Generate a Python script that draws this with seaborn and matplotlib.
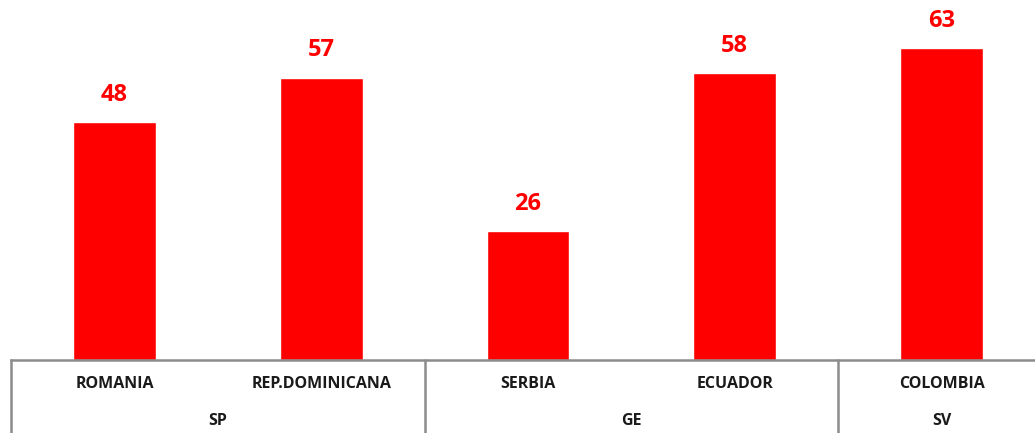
import matplotlib
matplotlib.use("Agg")
import matplotlib.pyplot as plt
import matplotlib.transforms as mtransforms
import pandas as pd
import seaborn as sns

countries = ["ROMANIA", "REP.DOMINICANA", "SERBIA", "ECUADOR", "COLOMBIA"]
values = [48, 57, 26, 58, 63]
groups = ["SP", "GE", "SV"]
group_sizes = [2, 2, 1]

sns.set_theme(style="white")
plt.rcParams['font.family'] = ['Open Sans', 'DejaVu Sans']

df = pd.DataFrame({"country": countries, "value": values})

fig = plt.figure(figsize=(10.35, 4.33), dpi=100)
ax = fig.add_axes([11 / 1035, 73 / 433, 1034 / 1035, 360 / 433])

sns.barplot(data=df, x="country", y="value", color="#ff0000", width=0.4,
            saturation=1, ax=ax)
ax.set_ylim(0, 72.7)
ax.set_xlim(-0.5, len(countries) - 0.5)
ax.set_xlabel("")
ax.set_ylabel("")
ax.set_yticks([])
ax.set_xticks([])
for s in ["top", "right", "left"]:
    ax.spines[s].set_visible(False)
ax.spines["bottom"].set_color("#8c8c8c")
ax.spines["bottom"].set_linewidth(1.8)

for i, v in enumerate(values):
    ax.annotate(str(v), (i, v), xytext=(0, 11), textcoords="offset points",
                ha="center", va="bottom", color="#ff0000",
                fontsize=17, fontweight="bold")

trans = mtransforms.blended_transform_factory(ax.transData, ax.transAxes)
for i, c in enumerate(countries):
    ax.text(i, -0.067, c, transform=trans, ha="center", va="center",
            fontsize=11.5, fontweight="bold", color="#1a1a1a")

start = 0
for g, n in zip(groups, group_sizes):
    left = start - 0.5
    ax.plot([left, left], [0, -0.21], transform=trans, color="#8c8c8c",
            lw=1.8, clip_on=False)
    ax.text(start + (n - 1) / 2, -0.17, g, transform=trans, ha="center",
            va="center", fontsize=11.5, fontweight="bold", color="#1a1a1a")
    start += n

fig.savefig("out.png", dpi=100)
